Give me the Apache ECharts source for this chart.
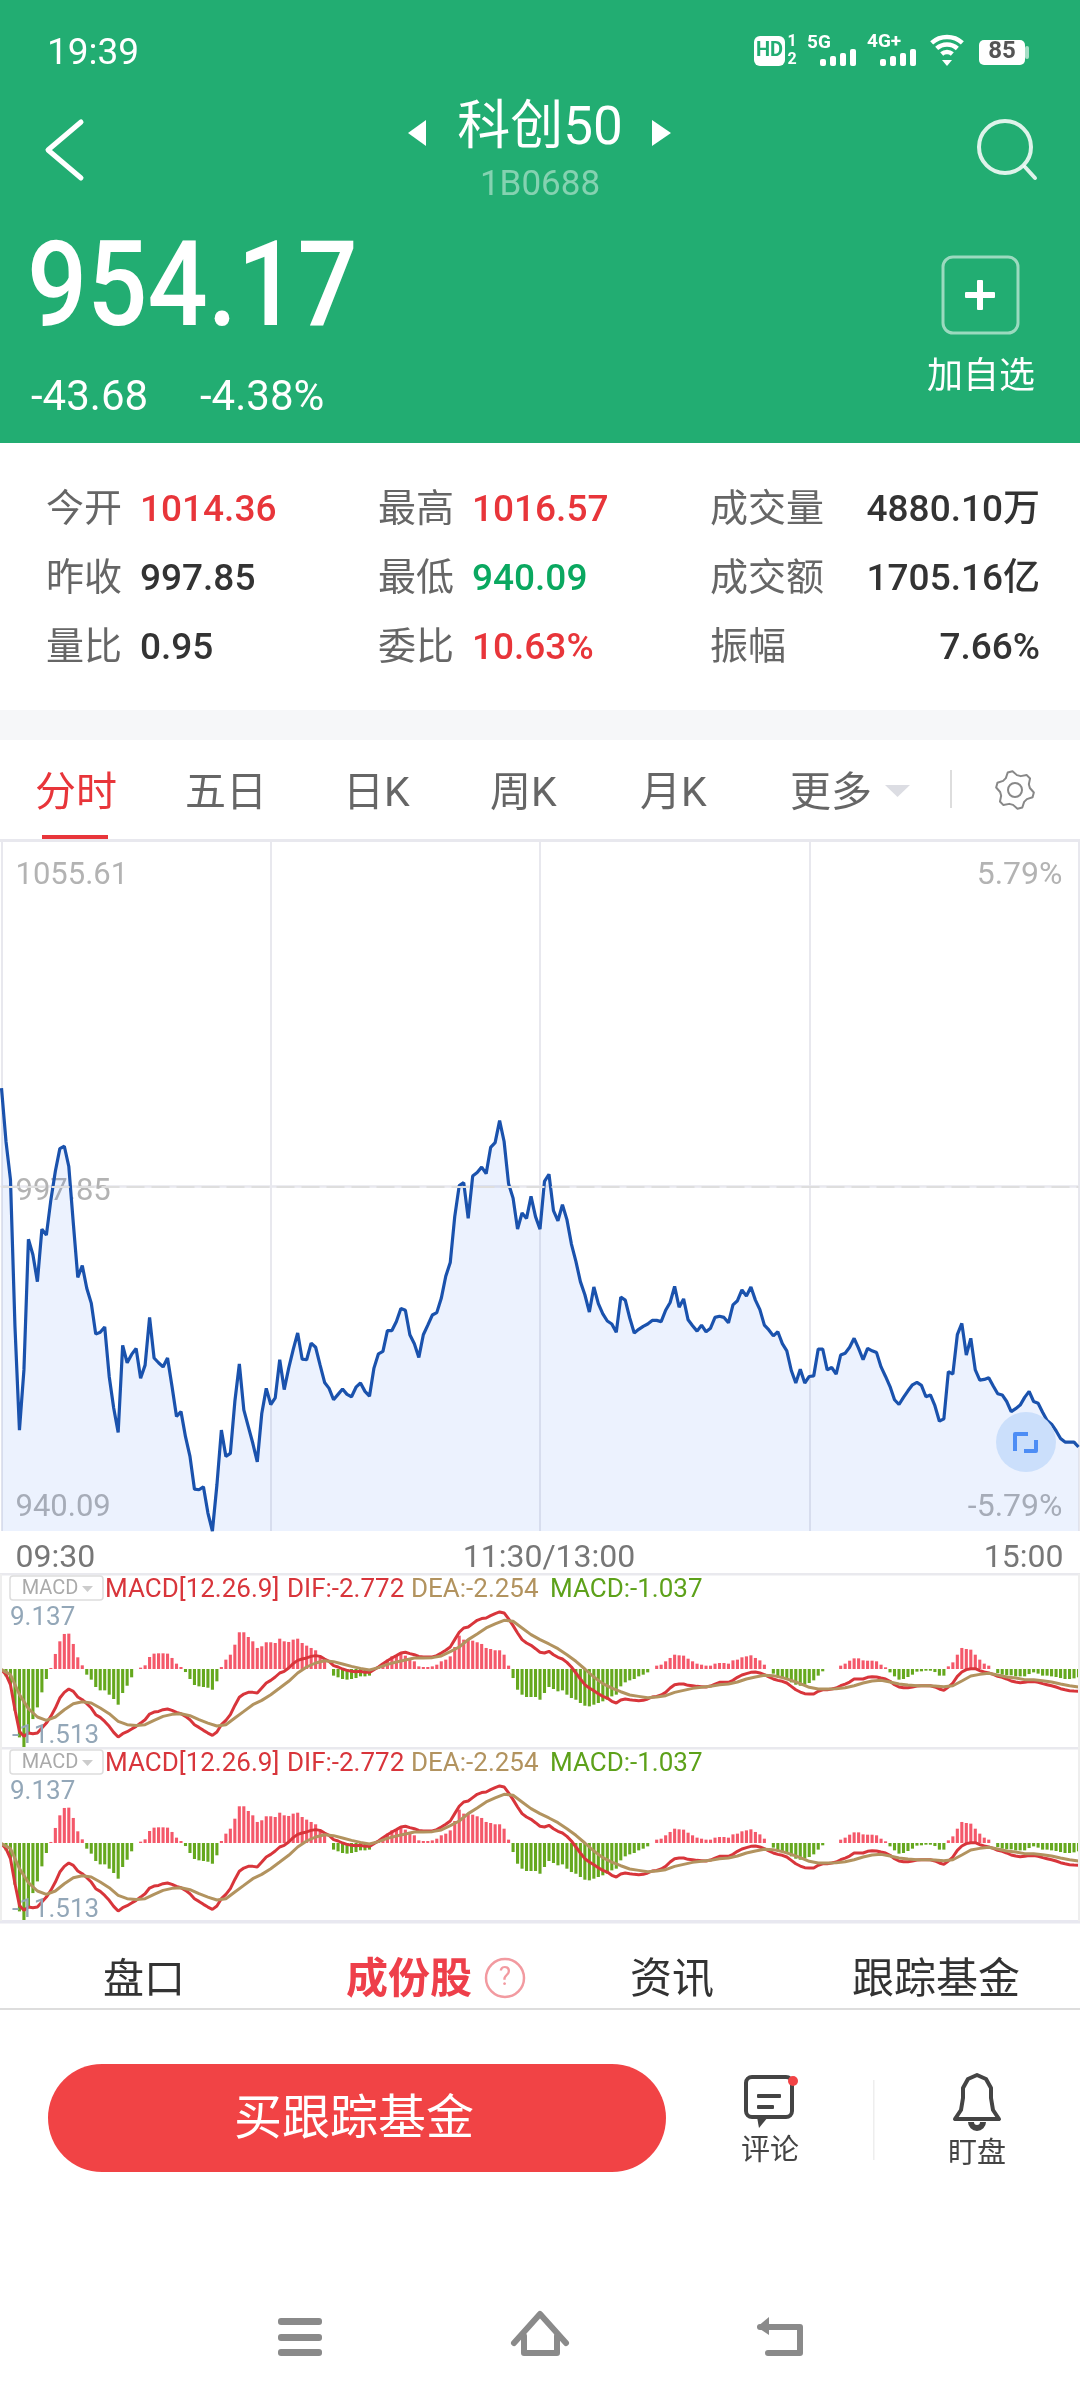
<!DOCTYPE html>
<html lang="zh"><head><meta charset="utf-8">
<style>html,body{margin:0;padding:0;background:#fff}#c{width:1080px;height:2400px}</style>
<script src="https://cdn.jsdelivr.net/npm/echarts@6/dist/echarts.min.js"></script>
</head><body><div id="c"></div>
<script>
// one value per minute, 09:30 to 15:00 (241 points)
const minutePrices = [
1014.36,1005.4,999.0,974.4,957.0,967.1,989.0,986.4,981.9,990.7,
989.7,995.6,1000.4,1004.2,1004.6,1001.2,991.7,982.6,984.6,980.8,
978.3,973.1,973.4,974.3,966.0,960.7,956.6,971.2,968.3,969.7,
970.7,965.7,967.9,975.9,969.1,968.3,967.6,969.1,964.3,959.3,
960.1,955.9,952.6,947.1,947.0,947.5,943.1,940.09,947.8,957.0,
952.6,953.1,961.8,968.1,960.4,957.6,954.8,951.7,959.8,964.0,
961.3,962.4,968.8,963.8,967.4,970.5,973.3,968.9,968.8,971.6,
970.9,967.9,965.0,964.0,962.1,963.0,963.9,963.0,962.6,964.2,
964.9,963.5,962.7,967.4,969.8,970.2,973.7,973.7,975.2,977.4,
977.1,973.0,971.5,969.2,973.0,974.6,976.3,976.7,979.1,982.8,
985.1,992.8,998.0,998.5,992.5,999.6,1000.2,1001.1,1000.0,1004.4,
1005.2,1008.9,1005.4,998.3,995.9,990.7,993.4,992.5,996.2,992.8,
990.7,998.7,999.9,993.8,992.1,994.8,992.3,988.2,985.3,981.9,
979.7,976.8,981.0,978.2,976.5,975.3,974.8,973.4,979.3,978.8,
975.8,973.3,973.9,974.4,974.8,975.4,975.4,975.2,977.1,978.4,
981.1,977.6,979.0,975.5,974.5,973.6,974.6,973.5,974.1,975.9,
976.1,975.9,975.0,978.0,978.7,980.5,979.5,981.0,978.8,977.2,
974.6,973.8,972.8,973.5,971.5,970.3,967.0,964.9,967.2,964.9,
966.0,966.1,970.6,970.6,967.1,967.5,966.4,969.6,969.9,970.9,
972.4,970.7,968.8,970.7,970.3,970.0,967.6,966.0,964.3,962.1,
961.3,962.5,963.6,964.6,965.0,964.5,962.6,962.9,961.1,958.5,
958.9,966.8,966.4,973.0,974.9,969.6,972.4,967.1,965.4,965.5,
965.8,964.4,963.1,962.9,961.8,960.1,960.6,961.2,962.5,963.5,
961.8,961.5,960.0,958.6,958.0,956.9,955.6,955.0,955.0,955.0,954.17];

const macdBars = [
-0.08,-0.92,-1.96,-5.21,-8.55,-11.51,-7.92,-6.26,-4.80,-2.92,
-1.25,0.13,1.88,3.46,4.38,4.42,3.13,1.46,0.46,-0.71,
-1.33,-2.25,-2.67,-2.67,-3.21,-3.75,-4.46,-3.0,-2.09,-1.04,
0,0.17,0.46,1.50,1.92,1.96,1.96,1.92,1.38,0.67,
0.25,-0.38,-1.25,-2.0,-2.17,-2.25,-2.34,-2.59,-1.54,0.25,
1.17,1.79,3.04,4.59,4.59,4.0,3.46,2.63,2.84,3.34,
3.34,3.25,3.79,3.46,3.38,3.67,3.79,3.25,2.92,2.63,
2.34,1.58,1.17,0,-0.83,-1.04,-1.25,-1.33,-1.25,-1.13,
-0.92,-0.92,-0.83,0,0.33,0.75,1.17,1.58,1.71,2.09,
1.67,1.17,0.96,0.33,0.25,0.25,0.33,0.54,0.96,1.17,
1.58,2.75,4.17,3.67,3.67,3.54,3.34,3.13,2.63,2.5,
2.34,2.34,1.79,0.42,-1.13,-2.59,-3.21,-3.5,-3.5,-3.5,
-3.84,-3.0,-2.25,-2.5,-2.79,-2.67,-3.21,-3.63,-3.84,-4.25,
-4.59,-4.67,-4.46,-4.25,-4.04,-3.84,-3.42,-3.21,-2.17,-1.67,
-1.42,-1.25,-0.92,-0.71,-0.42,0,0.42,0.54,0.96,1.38,
1.79,1.71,1.67,1.29,0.96,0.67,0.54,0.42,0.42,0.67,
0.75,0.75,0.67,1.08,1.17,1.46,1.58,1.71,1.38,1.08,
0.54,0,-0.58,-0.92,-1.13,-1.33,-1.67,-1.96,-2.09,-1.96,
-1.75,-1.42,-0.83,-0.29,0,0,0,0.42,0.67,1.04,
1.33,1.33,1.08,1.04,1.04,0.96,0.54,0.21,-0.42,-0.92,
-1.33,-1.25,-1.0,-0.71,-0.33,-0.29,-0.21,-0.21,-0.38,-0.83,
-0.83,0.33,0.83,1.79,2.63,2.5,2.42,1.79,1.17,0.67,
0.42,0,-0.5,-0.71,-0.79,-0.79,-0.92,-0.92,-0.92,-0.63,
-0.42,-0.58,-0.83,-0.83,-0.92,-1.0,-1.13,-1.25,-1.25,-1.17,-1.037];

const difLine = [
-0.08,-0.71,-1.96,-5.09,-7.8,-8.42,-8.01,-8.09,-8.01,-7.38,
-6.76,-5.92,-4.88,-3.63,-2.92,-2.5,-2.79,-3.5,-3.84,-4.34,
-4.88,-5.71,-6.05,-6.55,-7.17,-7.92,-8.51,-8.09,-7.84,-7.51,
-7.17,-6.76,-6.34,-5.63,-5.38,-5.3,-5.09,-5.0,-5.17,-5.42,
-5.59,-5.92,-6.34,-6.96,-7.3,-7.67,-8.01,-8.3,-7.88,-6.96,
-6.42,-5.71,-4.55,-3.54,-3.13,-2.92,-2.92,-3.0,-2.38,-1.75,
-1.42,-1.0,-0.5,-0.29,0.13,0.67,1.08,1.25,1.38,1.58,
1.67,1.58,1.25,0.96,0.42,0.25,0,-0.17,-0.29,-0.33,
-0.29,-0.42,-0.42,-0.08,0.25,0.67,1.04,1.38,1.67,2.0,
2.09,1.92,1.79,1.58,1.5,1.5,1.5,1.67,2.0,2.34,
2.75,3.67,4.59,5.13,5.25,5.67,6.09,6.3,6.38,6.67,
6.92,7.13,7.01,6.26,5.42,4.5,3.67,3.25,2.96,2.54,
2.09,2.0,2.21,1.79,1.46,1.25,0.83,0.25,-0.5,-1.25,
-1.96,-2.38,-2.71,-3.09,-3.42,-3.63,-4.04,-4.25,-3.88,-3.75,
-3.84,-3.92,-3.96,-3.92,-3.75,-3.5,-3.42,-3.25,-2.92,-2.38,
-1.96,-1.88,-1.88,-2.04,-2.09,-2.17,-2.21,-2.25,-2.13,-1.88,
-1.67,-1.67,-1.67,-1.42,-1.04,-0.75,-0.58,-0.42,-0.38,-0.5,
-0.71,-1.0,-1.25,-1.42,-1.54,-1.75,-2.17,-2.59,-2.88,-3.09,
-3.13,-3.13,-2.79,-2.59,-2.59,-2.5,-2.38,-2.09,-1.88,-1.63,
-1.25,-1.25,-1.25,-1.04,-0.96,-1.0,-1.13,-1.25,-1.54,-1.96,
-2.25,-2.34,-2.34,-2.25,-2.13,-2.09,-2.09,-2.09,-2.25,-2.5,
-2.67,-2.25,-1.75,-0.92,-0.38,-0.08,0.04,0.04,-0.21,-0.38,
-0.5,-0.67,-0.92,-1.04,-1.25,-1.5,-1.63,-1.71,-1.67,-1.58,
-1.58,-1.67,-1.83,-1.96,-2.09,-2.25,-2.46,-2.59,-2.71,-2.75,-2.772];

// read every second minute: the curve is smooth enough
const deaEveryTwoMinutes = [
-0.08,-0.71,-3.21,-4.96,-6.0,-6.42,-6.0,-5.09,-4.34,-4.09,
-4.25,-4.88,-5.59,-6.55,-6.96,-7.05,-6.96,-6.42,-5.92,-5.67,
-5.59,-5.84,-6.34,-6.76,-7.13,-6.96,-6.13,-5.3,-4.46,-3.92,
-3.21,-2.38,-1.54,-0.5,0.25,0.75,1.04,0.92,0.63,0.33,
0.08,-0.13,0.17,0.58,0.88,1.13,1.38,1.38,1.42,1.63,
2.17,2.75,3.67,4.38,5.13,5.63,6.09,5.96,5.13,4.3,
3.67,3.13,2.54,1.79,0.96,0,-1.0,-1.83,-2.38,-2.84,
-3.25,-3.42,-3.59,-3.5,-3.34,-2.92,-2.67,-2.42,-2.29,-2.17,
-1.96,-1.88,-1.63,-1.25,-1.0,-0.79,-0.83,-1.08,-1.42,-1.83,
-2.29,-2.5,-2.5,-2.46,-2.34,-2.09,-1.75,-1.5,-1.42,-1.63,
-1.88,-2.0,-2.09,-2.09,-2.13,-2.21,-2.09,-1.5,-0.88,-0.67,
-0.54,-0.75,-1.0,-1.13,-1.33,-1.33,-1.46,-1.63,-1.88,-2.09,-2.254];

const priceTickValues = [940.09, 997.85, 1055.61];
const pctTickValues = [-5.79, 5.79];
const timeTickValues = [0, 120, 240];
const timeTickLabels = ['09:30', '11:30/13:00', '15:00'];
const quoteRows = [
  [['今开','1014.36','#e8353a'],['最高','1016.57','#e8353a'],['成交量','4880.10万','#333']],
  [['昨收','997.85','#333'],['最低','940.09','#0aa860'],['成交额','1705.16亿','#333']],
  [['量比','0.95','#333'],['委比','10.63%','#e8353a'],['振幅','7.66%','#333']]
];
const periodTabs = ['五日','日K','周K','月K','更多'];
const lowerTabs = ['盘口','成份股','资讯','跟踪基金'];

const FF = 'Roboto, "Noto Sans CJK SC", sans-serif';
const els = [];
function T(x,y,text,size,fill,o){o=o||{};
  const yy=y+size*0.09;
  const el={type:'text',z:100,silent:true,style:{x,y:yy,text,fill,fontSize:size,fontFamily:FF,fontWeight:o.w||'normal',
    textAlign:o.a||'left',textVerticalAlign:'middle',align:o.a||'left',verticalAlign:'middle',opacity:o.op==null?1:o.op}};
  if(o.sy){el.scaleY=o.sy;el.originX=x;el.originY=yy;}
  els.push(el);}
function R(x,y,w,h,fill,r,stroke,lw,z){els.push({type:'rect',z:z==null?90:z,silent:true,shape:{x,y,width:w,height:h,r:r||0},
  style:{fill:fill||'none',stroke:stroke||null,lineWidth:lw||0}});}
function L(pts,stroke,lw,cap){els.push({type:'polyline',z:100,silent:true,shape:{points:pts},style:{fill:'none',stroke,lineWidth:lw,lineCap:cap||'round',lineJoin:'round'}});}
function P(pts,fill){els.push({type:'polygon',z:100,silent:true,shape:{points:pts},style:{fill}});}
function C(cx,cy,r,fill,stroke,lw){els.push({type:'circle',z:100,silent:true,shape:{cx,cy,r},style:{fill:fill||'none',stroke:stroke||null,lineWidth:lw||0}});}
function A(cx,cy,r,s,e,stroke,lw){els.push({type:'arc',z:100,silent:true,shape:{cx,cy,r,startAngle:s,endAngle:e},style:{fill:'none',stroke,lineWidth:lw}});}

// header
R(0,0,1080,443,'#22ad72');
T(47,51,'19:39',37,'#fff');
R(754,36,31,30,'#fff',6); T(769.5,49,'HD',20,'#22ad72',{a:'center',w:'bold'});
T(792,41,'1',16,'#fff',{a:'center',w:'bold'}); T(792,59,'2',16,'#fff',{a:'center',w:'bold'});
function bars(x0){[7,10,13,17].forEach((h,i)=>R(x0+i*10,66-h,6,h,'#fff',2));}
T(807,42,'5G',19,'#fff',{w:'bold'}); bars(820);
T(867,41,'4G+',19,'#fff',{w:'bold'}); bars(880);
[[23,4.5],[15.5,4.5],[8,4.5]].forEach(a=>A(947,60,a[0],-2.3,-0.84,'#fff',a[1]));
P([[942,60],[952,60],[947,66]],'#fff');
R(979,40,46,25,'#fff',5); T(1002,50,'85',24,'#555',{a:'center',w:'bold'}); R(1025,46,4,13,'rgba(255,255,255,.6)',2);
L([[81,122],[48,150],[81,178]],'#fff',5);
P([[426,120],[408,133],[426,146]],'#fff'); P([[652,120],[671,133],[652,146]],'#fff');
T(540,126,'科创50',53,'#fff',{a:'center'});
T(540,183,'1B0688',35,'#fff',{a:'center',op:.45});
C(1005,147,26,null,'rgba(255,255,255,.85)',4); L([[1025,167],[1035,178]],'rgba(255,255,255,.85)',4);
T(27,286,'954.17',106,'#fff',{w:500,sy:1.12});
T(31,396,'-43.68',42,'#fff'); T(200,396,'-4.38%',42,'#fff');
R(943,257,75,76,null,10,'rgba(255,255,255,.55)',3);
R(965,292,30,6,'#fff',1,null,0,100); R(977,280,6,30,'#fff',1,null,0,100);
T(981,376,'加自选',36,'#fff',{a:'center'});

// quote table
const rowY=[508,577,646], labX=[46,378,710], valX=[140,472,1040];
quoteRows.forEach((row,r)=>row.forEach((c,j)=>{
  T(labX[j],rowY[r],c[0],38,'#666');
  if(j===2) T(valX[j],rowY[r],c[1],37,c[2],{a:'right',w:500});
  else T(valX[j],rowY[r],c[1],37,c[2],{w:500});
}));
R(0,710,1080,30,'#f6f7f9');

// period tabs
T(35,792,'分时',41,'#e8353a');
[185,343,490,640,790].forEach((x,i)=>T(x,792,periodTabs[i],41,'#666'));
P([[885,785],[910,785],[897.5,797]],'#dcdde3');
R(950,770,2,38,'#dddddd');
R(42,835,66,5,'#e8353a');
(function(){const pts=[];for(let i=0;i<24;i++){const a=i/24*Math.PI*2,r=i%4<2?19:15;pts.push([1015+r*Math.cos(a+.13),790+r*Math.sin(a+.13)]);}
 pts.push(pts[0]);L(pts,'#888',2);C(1015,790,7,null,'#888',2);})();
R(0,839,1080,3,'#e8e8ee');

// fullscreen button
C(1026,1442,30,'#cbdffb');
L([[1015,1451],[1015,1434],[1028,1434]],'#4d8df5',4,'butt');
L([[1024,1451],[1036,1451],[1036,1440]],'#4d8df5',4,'butt');

// MACD panel furniture
[0,174].forEach(dy=>{
  R(0,1573+dy,1080,2.5,'#e9e9ee');
  R(10,1576+dy,93,24,'#fff',3,'#dddddd',1.5);
  T(50,1587+dy,'MACD',20,'#aaaaaa',{a:'center'});
  P([[82,1586+dy],[93,1586+dy],[87.5,1592+dy]],'#cccccc');
  T(105,1588+dy,'MACD[12.26.9]',26,'#d8353b');
  T(287,1588+dy,'DIF:-2.772',26,'#d8353b');
  T(411,1588+dy,'DEA:-2.254',26,'#b2935f');
  T(550,1588+dy,'MACD:-1.037',26,'#5da11a');
  T(10,1616+dy,'9.137',26,'#93a7b8');
  T(12,1734+dy,'-11.513',26,'#93a7b8');
});
R(0,1920,1080,3.5,'#e8e8f0');
R(0,1574,2,347,'#eeeeee'); R(1078,1574,2,347,'#eeeeee');

// lower tabs
T(103,1979,lowerTabs[0],41,'#333');
T(346,1979,lowerTabs[1],42,'#ee3f4a',{w:'bold'});
C(505,1978,19,null,'#f29aa0',2.5); T(505,1976,'?',26,'#f29aa0',{a:'center'});
T(630,1979,lowerTabs[2],42,'#333');
T(852,1979,lowerTabs[3],42,'#333');
R(0,2008,1080,2,'#dddddd');

// bottom action bar
R(48,2064,618,108,'#f14345',54);
T(354,2118,'买跟踪基金',48,'#fff',{a:'center'});
R(746,2077,46,40,null,6,'#444',4);
P([[757,2117],[768,2117],[759,2128]],'#444');
R(757,2094,24,4,'#444',1); R(757,2105,17,4,'#444',1);
C(793,2081,5,'#f14345');
T(770,2150,'评论',29,'#444',{a:'center'});
R(873,2080,1.5,80,'#eeeeee');
L([[955,2119],[961,2110],[963,2098],[963,2088],[968,2079],[977,2075],[986,2079],[991,2088],[991,2098],[993,2110],[999,2119],[955,2119]],'#444',4);
A(977,2122,6,0,Math.PI,'#444',6);
T(977,2153,'盯盘',29,'#444',{a:'center'});
R(278,2318,44,7,'#8a8a8a',3); R(278,2334,44,7,'#8a8a8a',3); R(278,2349,44,7,'#8a8a8a',3);
L([[514,2343],[540,2314],[566,2343]],'#8a8a8a',6);
L([[524,2336],[524,2353],[557,2353],[557,2336]],'#8a8a8a',6);
L([[760,2327],[800,2327],[800,2353],[768,2353]],'#8a8a8a',6);
P([[757,2327],[769,2317],[769,2335]],'#8a8a8a');

function pairs(a){return a.map((v,i)=>[i,v]);}
const dea = deaEveryTwoMinutes.map((v,i)=>[i*2,v]);
function macdSeries(idx){return [
 {type:'bar',xAxisIndex:idx,yAxisIndex:idx===1?2:3,data:pairs(macdBars),barWidth:3.1,z:2,silent:true,
  itemStyle:{color:p=>p.value[1]>=0?'#f4586a':'#65a81e'}},
 {type:'line',xAxisIndex:idx,yAxisIndex:idx===1?2:3,data:pairs(difLine),showSymbol:false,z:3,silent:true,lineStyle:{color:'#d8353b',width:3}},
 {type:'line',xAxisIndex:idx,yAxisIndex:idx===1?2:3,data:dea,showSymbol:false,z:4,silent:true,lineStyle:{color:'#b2935f',width:3}}
];}

const chart = echarts.init(document.getElementById('c'),null,{width:1080,height:2400,renderer:'canvas'});
const lab = {color:'#b3b3b3',fontSize:31,fontFamily:FF};
const labR = {color:'#b3b3b3',fontSize:32,fontFamily:FF};
const tlab = {color:'#777',fontSize:32,fontFamily:FF};
chart.setOption({
 animation:false,backgroundColor:'#fff',
 textStyle:{fontFamily:FF},
 grid:[
  {left:1.5,right:1.5,top:842,height:689},
  {left:1.5,right:1.5,top:1574,height:174},
  {left:1.5,right:1.5,top:1748,height:173}
 ],
 xAxis:[
  {type:'value',gridIndex:0,min:0,max:240,interval:60,
   axisLine:{show:true,lineStyle:{color:'#e8e8ee',width:2.5}},axisTick:{show:false},
   splitLine:{show:true,lineStyle:{color:'#e8e8ee',width:2}},
   axisLabel:{show:true,customValues:timeTickValues,margin:12,alignMinLabel:'left',alignMaxLabel:'right',
    formatter:v=>{const i=timeTickValues.indexOf(v);return '{'+'abc'[i]+'|'+timeTickLabels[i]+'}';},
    rich:{a:Object.assign({padding:[0,0,0,14]},tlab),
          b:Object.assign({padding:[0,0,0,18]},tlab),
          c:Object.assign({padding:[0,15,0,0]},tlab)}}},
  {type:'value',gridIndex:1,min:0,max:240,show:false},
  {type:'value',gridIndex:2,min:0,max:240,show:false}
 ],
 yAxis:[
  {type:'value',gridIndex:0,position:'left',min:940.09,max:1055.61,splitLine:{show:false},axisLine:{show:false},axisTick:{show:false},
   axisLabel:{inside:true,margin:14,customValues:priceTickValues,
    formatter:v=>{const t=v.toFixed(2);return v>1000?'{t|'+t+'}':v<950?'{b|'+t+'}':'{m|'+t+'}';},
    rich:{t:Object.assign({padding:[68,0,0,0]},lab),b:Object.assign({padding:[0,0,46,0]},lab),m:Object.assign({padding:[12,0,0,0]},lab)}}},
  {type:'value',gridIndex:0,position:'right',min:-5.79,max:5.79,splitLine:{show:false},axisLine:{show:false},axisTick:{show:false},
   axisLabel:{inside:true,margin:16,customValues:pctTickValues,
    formatter:v=>{const t=v.toFixed(2)+'%';return v>0?'{t|'+t+'}':'{b|'+t+'}';},
    rich:{t:Object.assign({padding:[68,0,0,0]},labR),b:Object.assign({padding:[0,0,46,0]},labR)}}},
  {type:'value',gridIndex:1,min:-9.875,max:11.875,show:false},
  {type:'value',gridIndex:2,min:-9.75,max:11.875,show:false}
 ],
 series:[
  {type:'line',xAxisIndex:0,yAxisIndex:0,data:pairs(minutePrices),showSymbol:false,silent:true,z:3,
   lineStyle:{color:'#1a52ad',width:3.2},areaStyle:{color:'rgba(40,110,240,0.09)',opacity:1,origin:'start'},
   markLine:{silent:true,symbol:'none',label:{show:false},animation:false,
    lineStyle:{color:'#dedede',width:2.2,type:[18,7]},data:[{yAxis:997.85}]}}
 ].concat(macdSeries(1),macdSeries(2)),
 graphic:{elements:els}
});
</script></body></html>
